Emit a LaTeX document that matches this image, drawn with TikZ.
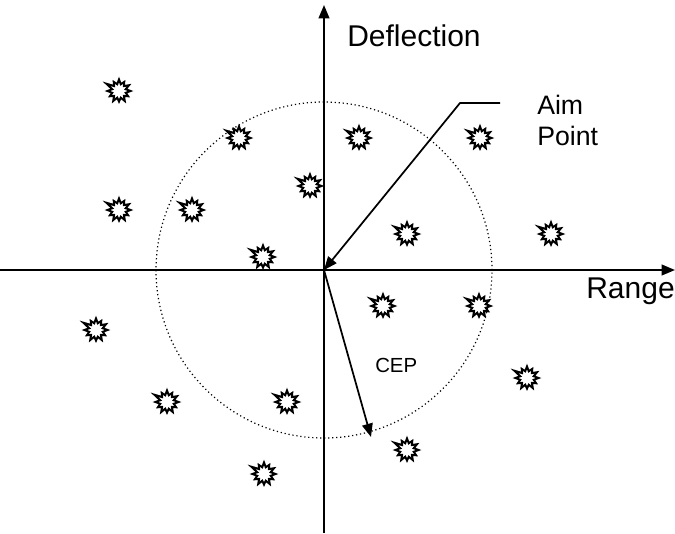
\documentclass[tikz,border=0pt]{standalone}
\usepackage{fontspec}
\setmainfont{Liberation Sans}
\usetikzlibrary{arrows.meta}
\tikzset{
  axis/.style={line width=1.5pt,-{Triangle[length=10pt,width=8pt]}},
  leader/.style={line width=1.3pt,-{Triangle[length=10pt,width=8pt]}},
  cepcircle/.style={draw,circle,dash pattern=on 0.9pt off 2.1pt,line width=0.9pt,minimum size=252pt,inner sep=0pt},
  lbl/.style={inner sep=0pt,font=\fontsize{22.5}{27}\selectfont},
  burst/.pic={
    \draw[line width=1.5pt,line join=miter]
      (0:11.5) -- (15:7) -- (30:10.5) -- (45:7) -- (60:11.5) -- (75:7) -- (90:10.5) -- (105:7)
      -- (120:11.5) -- (135:7) -- (150:10.5) -- (165:7) -- (180:11.5) -- (195:7) -- (210:14.5)
      -- (225:7) -- (240:10.5) -- (255:7) -- (270:11.5) -- (285:7) -- (300:10.5) -- (315:7)
      -- (330:11.5) -- (345:7) -- cycle;
  }
}
\begin{document}
\begin{tikzpicture}[x=0.75pt,y=-0.75pt]
\useasboundingbox (0,0) rectangle (675,533);
\coordinate (O) at (324,270);
\coordinate (xl) at (0,270);
\coordinate (xr) at (675,270);
\coordinate (yt) at (324,5);
\coordinate (yb) at (324,533);
\node[cepcircle] (cep) at (O) {};
\draw[axis] (xl) -- (xr);
\draw[axis] (yb) -- (yt);
\coordinate (ac) at (460,103);
\coordinate (ae) at (500,103);
\coordinate (ce) at (371,437);
\draw[leader] (ae) -- (ac) -- (O);
\draw[leader] (O) -- (ce);
\node[lbl,anchor=base west] (defl) at (347,46) {Deflection};
\node[lbl,anchor=base east] (range) at (675,298) {Range};
\node[inner sep=0pt,anchor=base west,font=\fontsize{20}{24}\selectfont] (aim) at (537,114) {Aim};
\node[inner sep=0pt,anchor=base west,font=\fontsize{20}{24}\selectfont] (point) at (537,145) {Point};
\node[inner sep=0pt,anchor=base west,font=\fontsize{15.3}{18}\selectfont] (ceplbl) at (375,372) {CEP};
\foreach \p [count=\i] in {(119,91),(239,138),(359,138),(480,138),(310,186),(119,210),(192,210),(407,234),(551,234),(263,257),(383,306),(479,306),(96,330),(527,378),(167,402),(287,402),(407,450),(264,474)}
  \pic (b\i) at \p {burst};
\end{tikzpicture}
\end{document}
